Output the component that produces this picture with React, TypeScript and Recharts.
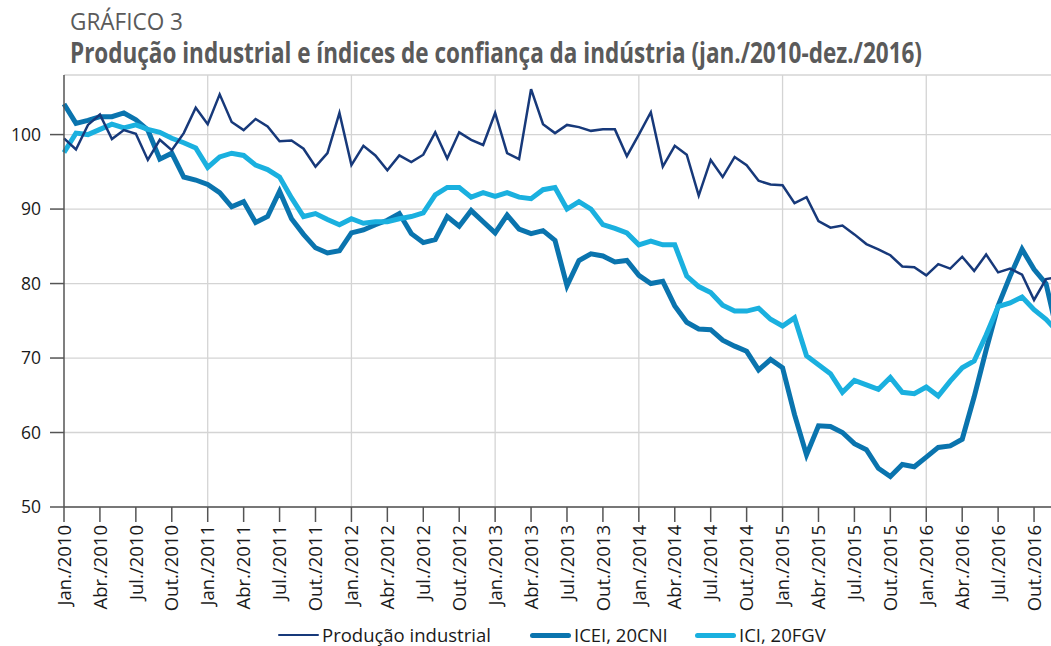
import React from 'react';
import { LineChart, Line, XAxis, YAxis, CartesianGrid, ReferenceLine } from 'recharts';

const monthNames = ['Jan.', 'Fev.', 'Mar.', 'Abr.', 'Mai.', 'Jun.', 'Jul.', 'Ago.', 'Set.', 'Out.', 'Nov.', 'Dez.'];
const years = [2010, 2011, 2012, 2013, 2014, 2015, 2016];

const producaoIndustrial = [
  99.5, 98.0, 101.3, 102.7, 99.4, 100.6, 100.1, 96.6, 99.3, 97.9, 100.2, 103.6,
  101.4, 105.4, 101.7, 100.6, 102.1, 101.1, 99.1, 99.2, 98.1, 95.7, 97.5, 102.9,
  95.9, 98.5, 97.2, 95.2, 97.2, 96.3, 97.3, 100.3, 96.8, 100.3, 99.3, 98.6,
  102.9, 97.5, 96.7, 106.1, 101.4, 100.2, 101.3, 101.0, 100.5, 100.7, 100.7, 97.1,
  100.0, 103.0, 95.7, 98.5, 97.3, 91.8, 96.6, 94.3, 97.0, 95.9, 93.8, 93.3,
  93.2, 90.8, 91.6, 88.4, 87.5, 87.8, 86.6, 85.3, 84.6, 83.8, 82.3, 82.2,
  81.1, 82.6, 82.0, 83.6, 81.7, 83.9, 81.5, 82.0, 81.2, 77.8, 80.6, 80.9,
];

const iceiCni = [
  104.1, 101.5, 101.9, 102.4, 102.4, 102.9, 102.0, 100.6, 96.7, 97.5, 94.3, 93.9,
  93.3, 92.2, 90.3, 91.0, 88.2, 89.0, 92.4, 88.7, 86.6, 84.8, 84.1, 84.4,
  86.8, 87.2, 87.9, 88.5, 89.4, 86.7, 85.5, 85.9, 89.0, 87.7, 89.8, 88.3,
  86.8, 89.2, 87.3, 86.7, 87.1, 85.8, 79.7, 83.1, 84.0, 83.7, 82.9, 83.1,
  81.1, 80.0, 80.3, 77.0, 74.8, 73.9, 73.8, 72.4, 71.6, 70.9, 68.4, 69.8,
  68.7, 62.4, 57.0, 60.9, 60.8, 60.0, 58.5, 57.7, 55.2, 54.1, 55.7, 55.4,
  56.7, 58.0, 58.2, 59.1, 64.8, 71.1, 77.0, 81.0, 84.6, 81.9, 80.0, 73.0,
];

const iciFgv = [
  97.6, 100.2, 100.0, 100.7, 101.4, 100.9, 101.3, 100.7, 100.3, 99.5, 98.9, 98.2,
  95.6, 97.0, 97.5, 97.2, 95.9, 95.3, 94.3, 91.5, 89.0, 89.4, 88.6, 87.9,
  88.7, 88.1, 88.3, 88.3, 88.7, 89.0, 89.5, 91.9, 92.9, 92.9, 91.6, 92.2,
  91.7, 92.2, 91.6, 91.4, 92.6, 92.9, 90.0, 91.0, 90.0, 87.9, 87.4, 86.8,
  85.2, 85.7, 85.2, 85.2, 81.0, 79.6, 78.8, 77.1, 76.3, 76.3, 76.7, 75.2,
  74.3, 75.4, 70.3, 69.1, 67.9, 65.4, 67.0, 66.4, 65.8, 67.4, 65.4, 65.2,
  66.1, 64.9, 66.9, 68.7, 69.6, 73.1, 76.9, 77.4, 78.2, 76.5, 75.2, 73.5,
];

const yTicks = [50, 60, 70, 80, 90, 100];

const seriesNames = ['Produção industrial', 'ICEI, 20CNI', 'ICI, 20FGV'];
const seriesColors = ['#17397a', '#0a74ae', '#1ab0df'];
const seriesWidths = [2.5, 5, 5];

const categories: string[] = [];
years.forEach((y) => monthNames.forEach((m) => categories.push(`${m}/${y}`)));

const data = categories.map((label, i) => ({
  label,
  prod: producaoIndustrial[i],
  icei: iceiCni[i],
  ici: iciFgv[i],
}));

const janLines = years.slice(1).map((y) => `Jan./${y}`);

const FONT = '"Open Sans", "Noto Sans", sans-serif';

const XTick = (props: any) => {
  const { x, y, payload } = props;
  return (
    <g transform={`translate(${x},${y})`}>
      <text
        transform="rotate(-90)"
        textAnchor="end"
        dy="0.36em"
        fontSize={18.5}
        fontFamily={FONT}
        fill="#1a1a1a"
      >
        {payload.value}
      </text>
    </g>
  );
};

const legendLeft = [278, 530, 695];

export default function App() {
  return (
    <div
      style={{
        position: 'fixed',
        left: 0,
        top: 0,
        width: 1051,
        height: 646,
        overflow: 'hidden',
        background: '#fff',
      }}
    >
      <svg
        width={1051}
        height={75}
        style={{ position: 'absolute', left: 0, top: 0 }}
      >
        <text
          x={70}
          y={30}
          fontFamily={FONT}
          fontSize={24}
          fill="#5a5a5a"
          textLength={113}
          lengthAdjust="spacingAndGlyphs"
        >
          GRÁFICO 3
        </text>
        <text
          x={70}
          y={63}
          fontFamily={FONT}
          fontWeight="bold"
          fontSize={28}
          fill="#5a5a5a"
          textLength={852}
          lengthAdjust="spacingAndGlyphs"
        >
          Produção industrial e índices de confiança da indústria (jan./2010-dez./2016)
        </text>
      </svg>
      <div style={{ position: 'absolute', left: 0, top: 0 }}>
        <LineChart
          width={1070}
          height={646}
          data={data}
          margin={{ top: 75, right: 12, bottom: 0, left: 0 }}
        >
          <CartesianGrid vertical={false} stroke="#d4d4d4" strokeWidth={1.3} />
          {janLines.map((j) => (
            <ReferenceLine key={j} x={j} stroke="#d4d4d4" strokeWidth={1.3} />
          ))}
          <XAxis
            dataKey="label"
            interval={2}
            height={139}
            tickSize={15}
            tickMargin={3}
            tick={<XTick />}
            axisLine={{ stroke: '#555', strokeWidth: 1.5 }}
            tickLine={{ stroke: '#555', strokeWidth: 1.5 }}
          />
          <YAxis
            width={64}
            domain={[50, 108]}
            ticks={yTicks}
            tickSize={14}
            tickMargin={9}
            axisLine={{ stroke: '#555', strokeWidth: 1.5 }}
            tickLine={{ stroke: '#555', strokeWidth: 1.5 }}
            tick={{ fontSize: 17.5, fontFamily: FONT, fill: '#1a1a1a' }}
          />
          <Line
            type="linear"
            dataKey="icei"
            stroke={seriesColors[1]}
            strokeWidth={seriesWidths[1]}
            dot={false}
            isAnimationActive={false}
          />
          <Line
            type="linear"
            dataKey="ici"
            stroke={seriesColors[2]}
            strokeWidth={seriesWidths[2]}
            dot={false}
            isAnimationActive={false}
          />
          <Line
            type="linear"
            dataKey="prod"
            stroke={seriesColors[0]}
            strokeWidth={seriesWidths[0]}
            dot={false}
            isAnimationActive={false}
          />
        </LineChart>
      </div>
      {seriesNames.map((name, i) => (
        <div
          key={name}
          style={{
            position: 'absolute',
            left: legendLeft[i],
            top: 624,
            height: 22,
            lineHeight: '22px',
            display: 'flex',
            alignItems: 'center',
            whiteSpace: 'nowrap',
            fontFamily: FONT,
            fontSize: 18.5,
            color: '#1a1a1a',
          }}
        >
          <span
            style={{
              display: 'inline-block',
              width: 41,
              height: seriesWidths[i],
              borderRadius: seriesWidths[i],
              background: seriesColors[i],
              marginRight: 3,
            }}
          />
          <span>{name}</span>
        </div>
      ))}
    </div>
  );
}
